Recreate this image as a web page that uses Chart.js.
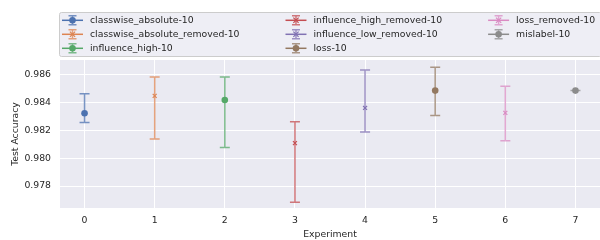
<!DOCTYPE html>
<html>
<head>
<meta charset="utf-8">
<script src="https://cdn.jsdelivr.net/npm/chart.js@4.4.0/dist/chart.umd.min.js"></script>
<style>
  html, body { margin: 0; padding: 0; background: #fff; }
  #wrap { width: 600px; height: 240px; }
</style>
</head>
<body>
<div id="wrap"><canvas id="chart" width="600" height="240"></canvas></div>
<script>
  'use strict';

  const experiments = [0, 1, 2, 3, 4, 5, 6, 7];
  const seriesNames = [
    'classwise_absolute-10', 'classwise_absolute_removed-10', 'influence_high-10',
    'influence_high_removed-10', 'influence_low_removed-10', 'loss-10',
    'loss_removed-10', 'mislabel-10'
  ];
  const means = [0.98321, 0.98445, 0.98416, 0.98107, 0.98359, 0.98483, 0.98324, 0.98483];
  const upper = [0.98461, 0.98581, 0.98581, 0.98261, 0.98631, 0.98650, 0.98514, 0.98483];
  const lower = [0.98254, 0.98136, 0.98076, 0.97684, 0.98186, 0.98304, 0.98124, 0.98483];
  const colors = ['#4C72B0', '#DD8452', '#55A868', '#C44E52', '#8172B3', '#937860', '#DA8BC3', '#8C8C8C'];
  const markers = ['circle', 'crossRot', 'circle', 'crossRot', 'crossRot', 'circle', 'crossRot', 'circle'];
  const xTicks = [0, 1, 2, 3, 4, 5, 6, 7];
  const yTicks = [0.978, 0.980, 0.982, 0.984, 0.986];

  const FONT = 'DejaVu Sans';
  const TEXT = '#262626';

  function alpha(hex, a) {
    var n = parseInt(hex.slice(1), 16);
    return 'rgba(' + (n >> 16) + ',' + ((n >> 8) & 255) + ',' + (n & 255) + ',' + a + ')';
  }

  function drawMarker(ctx, style, x, y, col) {
    ctx.fillStyle = col;
    ctx.strokeStyle = col;
    if (style === 'circle') {
      ctx.beginPath();
      ctx.arc(x, y, 3.3, 0, Math.PI * 2);
      ctx.fill();
    } else {
      ctx.lineWidth = 1.2;
      ctx.beginPath();
      ctx.moveTo(x - 2.6, y - 2.6); ctx.lineTo(x + 2.6, y + 2.6);
      ctx.moveTo(x - 2.6, y + 2.6); ctx.lineTo(x + 2.6, y - 2.6);
      ctx.stroke();
    }
  }

  function drawBar(ctx, x, top, bot, col, cap) {
    ctx.strokeStyle = alpha(col, 0.75);
    ctx.lineWidth = 1.5;
    ctx.beginPath();
    ctx.moveTo(x, top); ctx.lineTo(x, bot);
    ctx.moveTo(x - cap, top); ctx.lineTo(x + cap, top);
    ctx.moveTo(x - cap, bot); ctx.lineTo(x + cap, bot);
    ctx.stroke();
  }

  const plotBackground = {
    id: 'plotBackground',
    beforeDraw(chart) {
      const a = chart.chartArea;
      chart.ctx.save();
      chart.ctx.fillStyle = '#EAEAF2';
      chart.ctx.fillRect(a.left, a.top, a.right - a.left, a.bottom - a.top);
      chart.ctx.restore();
    }
  };

  const errorBars = {
    id: 'errorBars',
    beforeDatasetsDraw(chart) {
      const ctx = chart.ctx, xs = chart.scales.x, ys = chart.scales.y;
      ctx.save();
      chart.data.datasets.forEach(function (ds) {
        ds.data.forEach(function (p) {
          drawBar(ctx, xs.getPixelForValue(p.x), ys.getPixelForValue(p.hi),
            ys.getPixelForValue(p.lo), ds.borderColor, 5);
        });
      });
      ctx.restore();
    }
  };

  const gridLegend = {
    id: 'gridLegend',
    afterDraw(chart) {
      const ctx = chart.ctx, a = chart.chartArea;
      const rows = 3, rowY = [20.3, 34.3, 48.3];
      ctx.save();
      ctx.fillStyle = 'rgba(234,234,242,0.8)';
      ctx.strokeStyle = '#CCCCCC';
      ctx.lineWidth = 1;
      ctx.beginPath();
      ctx.roundRect(a.left - 0.5, 12.5, chart.width - a.left + 2, 44, 2);
      ctx.fill();
      ctx.stroke();

      ctx.font = '9.3px "' + FONT + '"';
      ctx.textBaseline = 'middle';
      let hx = a.left + 2;
      for (let c = 0; c * rows < seriesNames.length; c++) {
        let maxW = 0;
        for (let r = 0; r < rows; r++) {
          const i = c * rows + r;
          if (i >= seriesNames.length) break;
          const y = rowY[r], col = colors[i], cx = hx + 10.5;
          ctx.strokeStyle = col;
          ctx.lineWidth = 1.5;
          ctx.beginPath();
          ctx.moveTo(hx, y); ctx.lineTo(hx + 21, y);
          ctx.stroke();
          drawBar(ctx, cx, y - 4.5, y + 4.5, col, 4);
          drawMarker(ctx, markers[i], cx, y, col);
          ctx.fillStyle = TEXT;
          ctx.fillText(seriesNames[i], hx + 28, y);
          maxW = Math.max(maxW, ctx.measureText(seriesNames[i]).width);
        }
        hx = hx + 28 + maxW + 46;
      }
      ctx.restore();
    }
  };

  const datasets = seriesNames.map(function (name, i) {
    return {
      label: name,
      data: [{ x: experiments[i], y: means[i], lo: lower[i], hi: upper[i] }],
      borderColor: colors[i],
      backgroundColor: colors[i],
      pointStyle: markers[i],
      pointRadius: markers[i] === 'circle' ? 3.3 : 2.8,
      pointBorderWidth: markers[i] === 'circle' ? 0 : 1.2
    };
  });

  const tickFont = { family: FONT, size: 9.3 };

  new Chart(document.getElementById('chart'), {
    type: 'scatter',
    data: { datasets: datasets },
    options: {
      responsive: false,
      devicePixelRatio: 1,
      animation: false,
      layout: { autoPadding: false, padding: { top: 60, right: 0, left: 0, bottom: 0 } },
      plugins: { legend: { display: false }, tooltip: { enabled: false } },
      scales: {
        x: {
          type: 'linear',
          min: -0.35,
          max: 7.35,
          afterBuildTicks: function (s) { s.ticks = xTicks.map(function (v) { return { value: v }; }); },
          afterFit: function (s) { s.height = 32; },
          ticks: { font: tickFont, color: TEXT, padding: 7, callback: function (v) { return String(v); } },
          grid: { color: '#FFFFFF', lineWidth: 1, drawTicks: false },
          border: { display: false },
          title: { display: true, text: 'Experiment', font: tickFont, color: TEXT, padding: { top: 0, bottom: 0 } }
        },
        y: {
          min: 0.97643,
          max: 0.98702,
          afterBuildTicks: function (s) { s.ticks = yTicks.map(function (v) { return { value: v }; }); },
          afterFit: function (s) { s.width = 60; },
          ticks: { font: tickFont, color: TEXT, padding: 9, callback: function (v) { return v.toFixed(3); } },
          grid: { color: '#FFFFFF', lineWidth: 1, drawTicks: false },
          border: { display: false },
          title: { display: true, text: 'Test Accuracy', font: tickFont, color: TEXT, padding: { top: 10, bottom: 0 } }
        }
      }
    },
    plugins: [plotBackground, errorBars, gridLegend]
  });
</script>
</body>
</html>
